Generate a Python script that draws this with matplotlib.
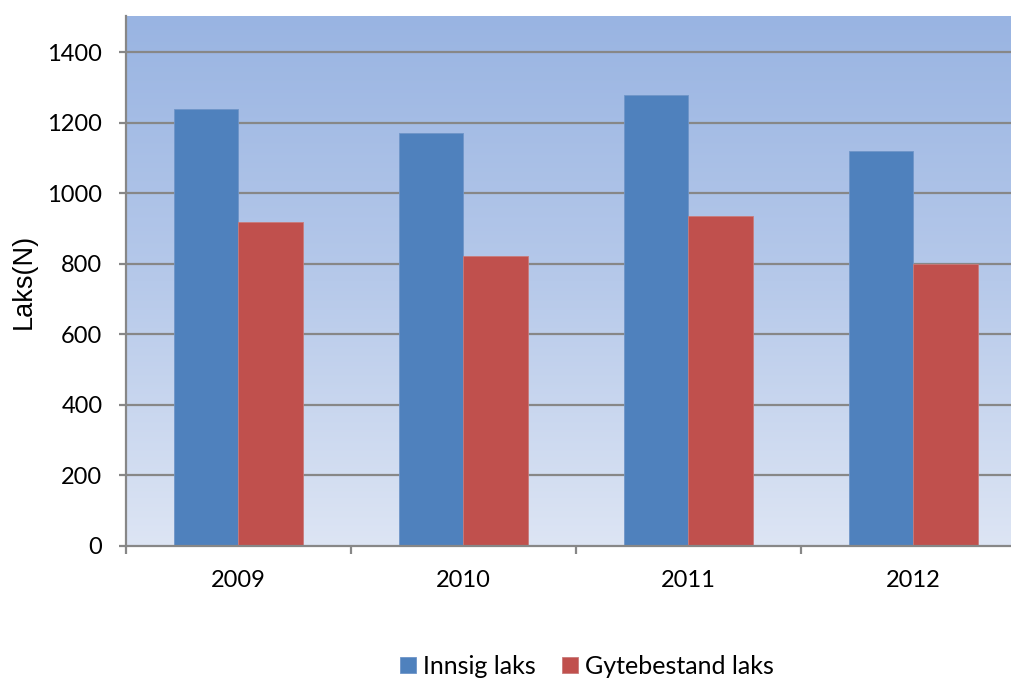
import numpy as np
import matplotlib.pyplot as plt
from matplotlib.colors import LinearSegmentedColormap

plt.rcParams['font.family'] = ['Lato', 'DejaVu Sans']

years = ['2009', '2010', '2011', '2012']
innsig = [1238, 1172, 1279, 1119]
gytebestand = [919, 823, 935, 801]
series_names = ['Innsig laks', 'Gytebestand laks']
yticks = [0, 200, 400, 600, 800, 1000, 1200, 1400]

W, H = 1012, 679
fig = plt.figure(figsize=(W / 100, H / 100), dpi=100)
# plot area runs off the right edge of the figure
left, right, top, bottom = 126, 1026, 16, 546
ax = fig.add_axes([left / W, 1 - bottom / H, (right - left) / W, (bottom - top) / H])

ymax = 1503
ax.set_xlim(-0.5, 3.5)
ax.set_ylim(0, ymax)

# vertical gradient background
grad = np.linspace(0, 1, 256).reshape(-1, 1)
cmap = LinearSegmentedColormap.from_list('bg', ['#dde5f4', '#b6c9ea', '#99b4e2'])
ax.imshow(grad, extent=(-0.5, 3.5, 0, ymax), origin='lower', aspect='auto',
          cmap=cmap, zorder=0)

for y in yticks[1:]:
    ax.axhline(y, color='#878787', lw=1.6, zorder=1)

x = np.arange(len(years))
bw = 0.285
ax.bar(x - bw / 2, innsig, width=bw, color='#4f81bd', edgecolor='#6f95c8',
       linewidth=0.6, zorder=2, label=series_names[0])
ax.bar(x + bw / 2, gytebestand, width=bw, color='#c0504d', edgecolor='#c97b7a',
       linewidth=0.6, zorder=2, label=series_names[1])

for s in ['top', 'right']:
    ax.spines[s].set_visible(False)
for s in ['left', 'bottom']:
    ax.spines[s].set_color('#878787')
    ax.spines[s].set_linewidth(1.6)

ax.set_yticks(yticks)
ax.set_yticklabels([str(v) for v in yticks], fontsize=17)
ax.tick_params(axis='y', length=5, width=1.6, color='#878787', direction='out', pad=12)
ax.set_xticks(x)
ax.set_xticklabels(years, fontsize=17)
ax.tick_params(axis='x', length=0, pad=17)
ax.set_xticks(np.arange(-0.5, 3.6, 1), minor=True)
ax.tick_params(axis='x', which='minor', length=6, width=1.6, color='#878787', direction='out')

fig.text(24 / W, 1 - 281 / H, 'Laks(N)', rotation=90, ha='center', va='center',
         fontsize=19.5, family=['Liberation Sans', 'DejaVu Sans'])

fig.legend(loc='center', bbox_to_anchor=(587 / W, 1 - 666 / H), ncol=2,
           frameon=False, fontsize=18, handlelength=0.62, handleheight=0.62,
           handletextpad=0.3, columnspacing=1.05)

fig.savefig('out.png', dpi=100)
